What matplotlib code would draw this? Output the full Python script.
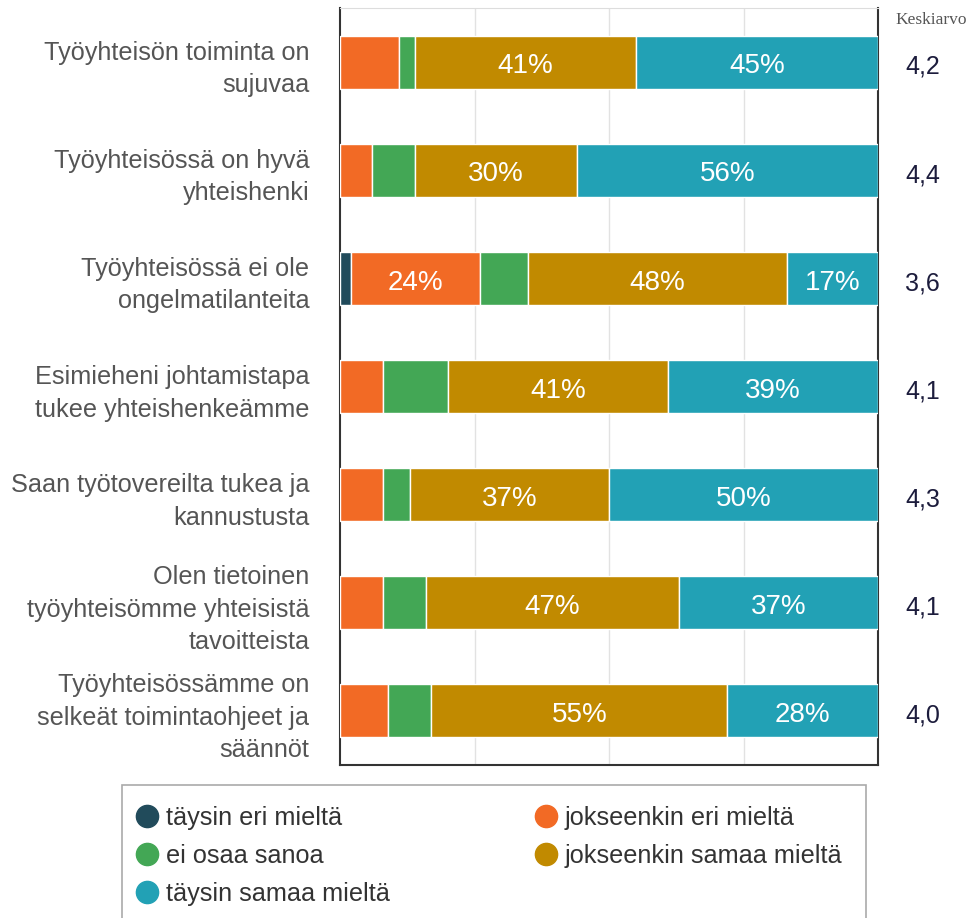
import matplotlib.pyplot as plt
from matplotlib.lines import Line2D
from matplotlib.patches import Rectangle
import matplotlib.transforms as mtransforms

# Data
questions = [
    'Työyhteisön toiminta on\nsujuvaa',
    'Työyhteisössä on hyvä\nyhteishenki',
    'Työyhteisössä ei ole\nongelmatilanteita',
    'Esimieheni johtamistapa\ntukee yhteishenkeämme',
    'Saan työtovereilta tukea ja\nkannustusta',
    'Olen tietoinen\ntyöyhteisömme yhteisistä\ntavoitteista',
    'Työyhteisössämme on\nselkeät toimintaohjeet ja\nsäännöt',
]
series_names = ['täysin eri mieltä', 'jokseenkin eri mieltä', 'ei osaa sanoa',
                'jokseenkin samaa mieltä', 'täysin samaa mieltä']
taysin_eri = [0, 0, 2, 0, 0, 0, 0]
jokseenkin_eri = [11, 6, 24, 8, 8, 8, 9]
ei_osaa = [3, 8, 9, 12, 5, 8, 8]
jokseenkin_samaa = [41, 30, 48, 41, 37, 47, 55]
taysin_samaa = [45, 56, 17, 39, 50, 37, 28]
means = ['4,2', '4,4', '3,6', '4,1', '4,3', '4,1', '4,0']

colors = ['#214b5b', '#f26a25', '#43a755', '#c18a00', '#22a1b5']
values = [taysin_eri, jokseenkin_eri, ei_osaa, jokseenkin_samaa, taysin_samaa]

plt.rcParams['font.family'] = ['Liberation Sans', 'DejaVu Sans']

fig = plt.figure(figsize=(9.72, 9.18), dpi=100)
ax = fig.add_axes([340 / 972, 1 - 765 / 918, 538 / 972, 757 / 918])

y = list(range(len(questions)))
left = [0] * len(questions)
for vals, col in zip(values, colors):
    bars = ax.barh(y, vals, left=left, height=0.49, color=col,
                   edgecolor='white', linewidth=1, zorder=3)
    labels = [f'{v}%' if v >= 15 else '' for v in vals]
    anns = ax.bar_label(bars, labels=labels, label_type='center', color='white',
                        fontsize=20)
    for a in anns:
        a.xyann = (0, -3)  # nudge a bit lower, like the original
    left = [a + b for a, b in zip(left, vals)]

ax.set_xlim(0, 100)
ax.set_ylim(6.5, -0.5)
ax.set_xticks([25, 50, 75])
ax.set_xticklabels([])
ax.grid(axis='x', color='#e2e2e2', linewidth=1, zorder=0)
ax.tick_params(axis='x', length=0)
ax.tick_params(axis='y', length=0, pad=22, labelsize=18.2, labelcolor='#555555')
ax.set_yticks(y)
ax.set_yticklabels(questions, ha='right', linespacing=1.45)

for side in ['left', 'bottom', 'right']:
    ax.spines[side].set_color('#333333')
    ax.spines[side].set_linewidth(1.5)
ax.spines['top'].set_color('#dddddd')

# mean values
trans = mtransforms.blended_transform_factory(ax.transAxes, ax.transData)
for yi, m in zip(y, means):
    ax.text(1.05, yi + 0.045, m, transform=trans, ha='left', va='center',
            fontsize=18, color='#1c1c3c')
fig.text(895 / 972, 1 - 20 / 918, 'Keskiarvo', family='Liberation Serif',
         fontsize=12.5, color='#555555', ha='left', va='center')

# legend
order = [0, 2, 4, 1, 3]
handles = [Line2D([], [], marker='o', linestyle='none', markersize=16,
                  markerfacecolor=colors[i], markeredgecolor=colors[i])
           for i in order]
fig.legend(handles, [series_names[i] for i in order], ncol=2,
           loc='upper left', bbox_to_anchor=(136 / 972, 1 - 806 / 918),
           frameon=False, fontsize=18.2, handlelength=0.9, handletextpad=0.3,
           columnspacing=5.7, labelspacing=0.55, borderpad=0, borderaxespad=0,
           labelcolor='#333333')
fig.patches.append(Rectangle((122 / 972, -0.05), (866 - 122) / 972,
                             (0.05 + 1 - 785 / 918), transform=fig.transFigure,
                             facecolor='none', edgecolor='#aaaaaa', linewidth=1.2))

fig.savefig('out.png', dpi=100)
